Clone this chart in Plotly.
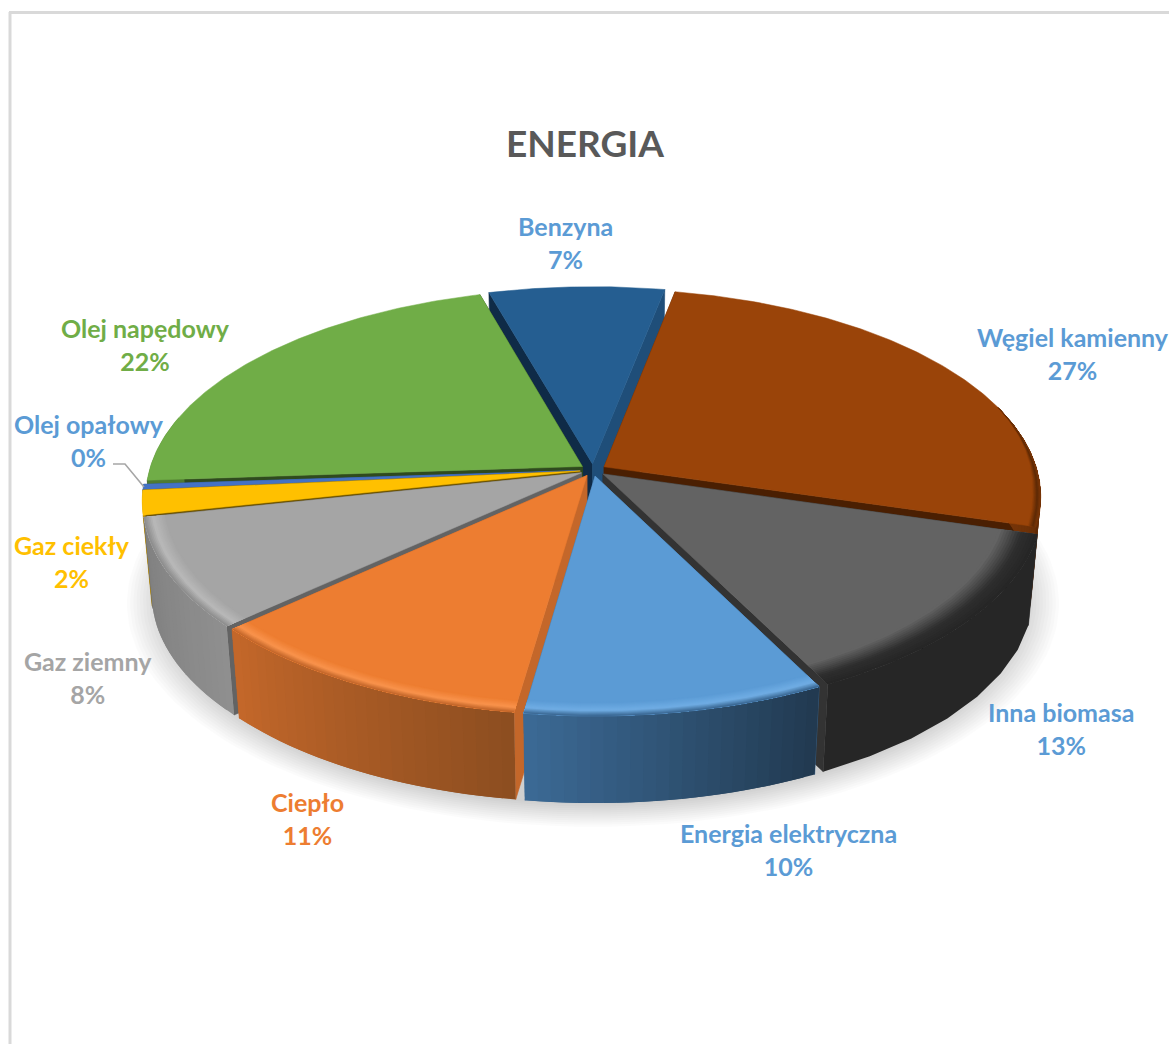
import numpy as np
import plotly.graph_objects as go

# ---------- data ----------
categories = ["Węgiel kamienny", "Inna biomasa", "Energia elektryczna", "Ciepło", "Gaz ziemny",
              "Gaz ciekły", "Olej opałowy", "Olej napędowy", "Benzyna"]
values = [26.5, 13.0, 9.67, 10.9, 8.45, 1.9, 0.4, 21.65, 7.45]
title_text = "ENERGIA"

# ---------- styles ----------
top_col = ["#9A4409", "#636363", "#5B9BD5", "#ED7D31", "#A5A5A5", "#FFC000", "#4472C4", "#70AD47", "#255E91"]
wall_a = ["#7A3608", "#262626", "#3C6A96", "#C4672A", "#8F8F8F", "#D9A300", "#2F5597", "#4E7A30", "#1F4E79"]
wall_b = ["#5E2A06", "#262626", "#21394F", "#8C4E20", "#7F7F7F", "#B78900", "#2F5597", "#4E7A30", "#1F4E79"]
face_l = ["#5E2A06", "#333333", "#3C6A96", "#C4672A", "#636363", "#8A6A00", "#2F5597", "#2F4A1E", "#0F2B47"]
face_r = ["#4A1F02", "#333333", "#3C6A96", "#C4672A", "#636363", "#6B5200", "#2F5597", "#2F4A1E", "#1F4E79"]
rim_hi = ["#5E2A06", "#2E2E2E", "#70ADE4", "#F9934C", "#B9B9B9", None, None, None, None]
rim_width = [0.02, 0.085, 0.05, 0.045, 0.05, 0, 0, 0, 0]
label_col = ["#5B9BD5", "#5B9BD5", "#5B9BD5", "#ED7D31", "#A5A5A5", "#FFC000", "#5B9BD5", "#70AD47", "#5B9BD5"]
label_xy = [(1073, 353), (1061, 728), (788, 849), (307, 818), (88, 677), (72, 561), (89, 440), (145, 344), (565, 242)]
draw_order = [8, 7, 0, 6, 5, 4, 1, 3, 2]

W, H = 1169, 1044
cx, cy = 593, 470
a, b, k = 433, 204, 0.142
shrink, depth = 0.98, 92
explode = 0.03
start_deg = 11.0


def proj(u, v, bottom=False):
    den = 1 + k * v
    X = cx + a * u / den
    Y = cy - b * v / den
    if bottom:
        X = cx + (X - cx) * shrink
        Y = cy + (Y - cy) * shrink + depth
    return X, Y


def hex2rgb(c):
    return np.array([int(c[i:i + 2], 16) for i in (1, 3, 5)], float)


def mix(c1, c2, t):
    r = hex2rgb(c1) * (1 - t) + hex2rgb(c2) * t
    return "#%02x%02x%02x" % tuple(int(round(x)) for x in r)


fig = go.Figure()


def poly(xs, ys, color, opacity=1.0, seam=0.0):
    fig.add_trace(go.Scatter(
        x=list(xs) + [xs[0]], y=list(ys) + [ys[0]], mode="lines", fill="toself",
        fillcolor=color, opacity=opacity,
        line=dict(color=color, width=seam), hoverinfo="skip", showlegend=False))


def rim(th, off, r=1.0, bottom=False):
    u = off[0] + r * np.sin(th)
    v = off[1] + r * np.cos(th)
    return proj(u, v, bottom)


# soft floor shadow
full = np.linspace(0, 2 * np.pi, 181)
for r in np.linspace(1.08, 1.0, 12):
    X, Y = rim(full, (0, -0.035), r, True)
    poly(X, Y, "#000000", opacity=0.014)

# slice angles come from the values
total = sum(values)
fractions = np.array(values) / total
edges = np.radians(start_deg + 360 * np.concatenate([[0], np.cumsum(fractions)]))

for i in draw_order:
    t0, t1 = edges[i], edges[i + 1]
    mid = (t0 + t1) / 2
    off = (explode * np.sin(mid), explode * np.cos(mid))
    th = np.linspace(t0, t1, max(6, int(np.degrees(t1 - t0) * 1.5)))

    # radial faces
    for tt, col in ((t0, face_l[i]), (t1, face_r[i])):
        X0, Y0 = proj(off[0], off[1])
        X1, Y1 = rim(tt, off)
        X2, Y2 = rim(tt, off, 1.0, True)
        X3, Y3 = proj(off[0], off[1], True)
        poly([X0, X1, X2, X3], [Y0, Y1, Y2, Y3], col, seam=0.6)

    # curved wall: strips overlap so no seams show; only the part facing the viewer
    vis0 = t0
    if np.cos(t0) > 0.25:
        vis0 = np.arccos(0.25) if t0 < np.pi else max(t0, 2 * np.pi - np.arccos(0.25))
    vis1 = t1
    if t0 > np.pi and t1 > 2 * np.pi - np.arccos(0.25):
        vis1 = 2 * np.pi - np.arccos(0.25)
    if vis1 > vis0:
        n_strips = max(2, int(np.degrees(vis1 - vis0) / 1.5)) if wall_a[i] != wall_b[i] else 1
        sel = np.linspace(vis0, vis1, n_strips + 1)
        for j in range(n_strips):
            seg = np.linspace(sel[j], sel[min(j + 2, n_strips)], 8)
            xt, yt = rim(seg, off)
            xb, yb = rim(seg, off, 1.0, True)
            frac = (j + 0.5) / n_strips
            if i in (2, 3):  # these two darken to the right
                frac = 1 - frac
            poly(list(xt) + list(xb[::-1]), list(yt) + list(yb[::-1]), mix(wall_a[i], wall_b[i], frac))

    # top face
    tx, ty = rim(th, off)
    ax, ay = proj(off[0], off[1])
    poly([ax] + list(tx), [ay] + list(ty), top_col[i], seam=0.5)

    # bevel along the near part of the rim, tapering in from the far side;
    # every band reaches the outer edge so the next one simply paints over it
    if rim_hi[i]:
        lo = np.radians(72)
        bt = np.linspace(max(t0, lo), t1, 60)
        taper = np.clip((bt - lo) / np.radians(25), 0, 1)
        steps = np.linspace(1, 0, 15)[:-1]
        x2, y2 = rim(bt, off, 1.0)
        for n, s in enumerate(steps):
            x1, y1 = rim(bt, off, 1 - rim_width[i] * s * taper)
            t = n / (len(steps) - 1)
            if t < 0.6:
                c = mix(top_col[i], rim_hi[i], t / 0.6)
            else:
                c = mix(rim_hi[i], wall_a[i], (t - 0.6) / 0.4)
            poly(list(x1) + list(x2[::-1]), list(y1) + list(y2[::-1]), c)

# labels
annotations = []
for name, f, col, (x, y) in zip(categories, fractions, label_col, label_xy):
    annotations.append(dict(x=x, y=y, xref="x", yref="y", showarrow=False, xanchor="center", yanchor="middle",
                            text=f"{name}<br>{round(f * 100):.0f}%", align="center",
                            font=dict(family="Lato, Open Sans, sans-serif", size=25, color=col, weight="bold")))
annotations.append(dict(x=585, y=142, xref="x", yref="y", showarrow=False, xanchor="center", yanchor="middle",
                        text=title_text, font=dict(family="Lato, Open Sans, sans-serif", size=37, color="#595959", weight="bold")))

# leader line for the thin slice
fig.add_trace(go.Scatter(x=[113, 125, 144], y=[464, 464, 487], mode="lines",
                         line=dict(color="#A6A6A6", width=1.6), hoverinfo="skip", showlegend=False))

fig.update_layout(
    width=W, height=H, margin=dict(l=0, r=0, t=0, b=0),
    paper_bgcolor="white", plot_bgcolor="white", showlegend=False,
    xaxis=dict(range=[0, W], visible=False, fixedrange=True),
    yaxis=dict(range=[H, 0], visible=False, fixedrange=True),
    annotations=annotations,
    shapes=[
        dict(type="line", xref="x", yref="y", x0=10, x1=10, y0=12, y1=H, line=dict(color="#D9D9D9", width=3)),
        dict(type="line", xref="x", yref="y", x0=9, x1=W, y0=12.5, y1=12.5, line=dict(color="#D9D9D9", width=3)),
    ],
)
fig.write_html("out.html", config={"displayModeBar": False},
               post_script="document.body.style.margin='0';document.body.style.overflow='hidden';")
